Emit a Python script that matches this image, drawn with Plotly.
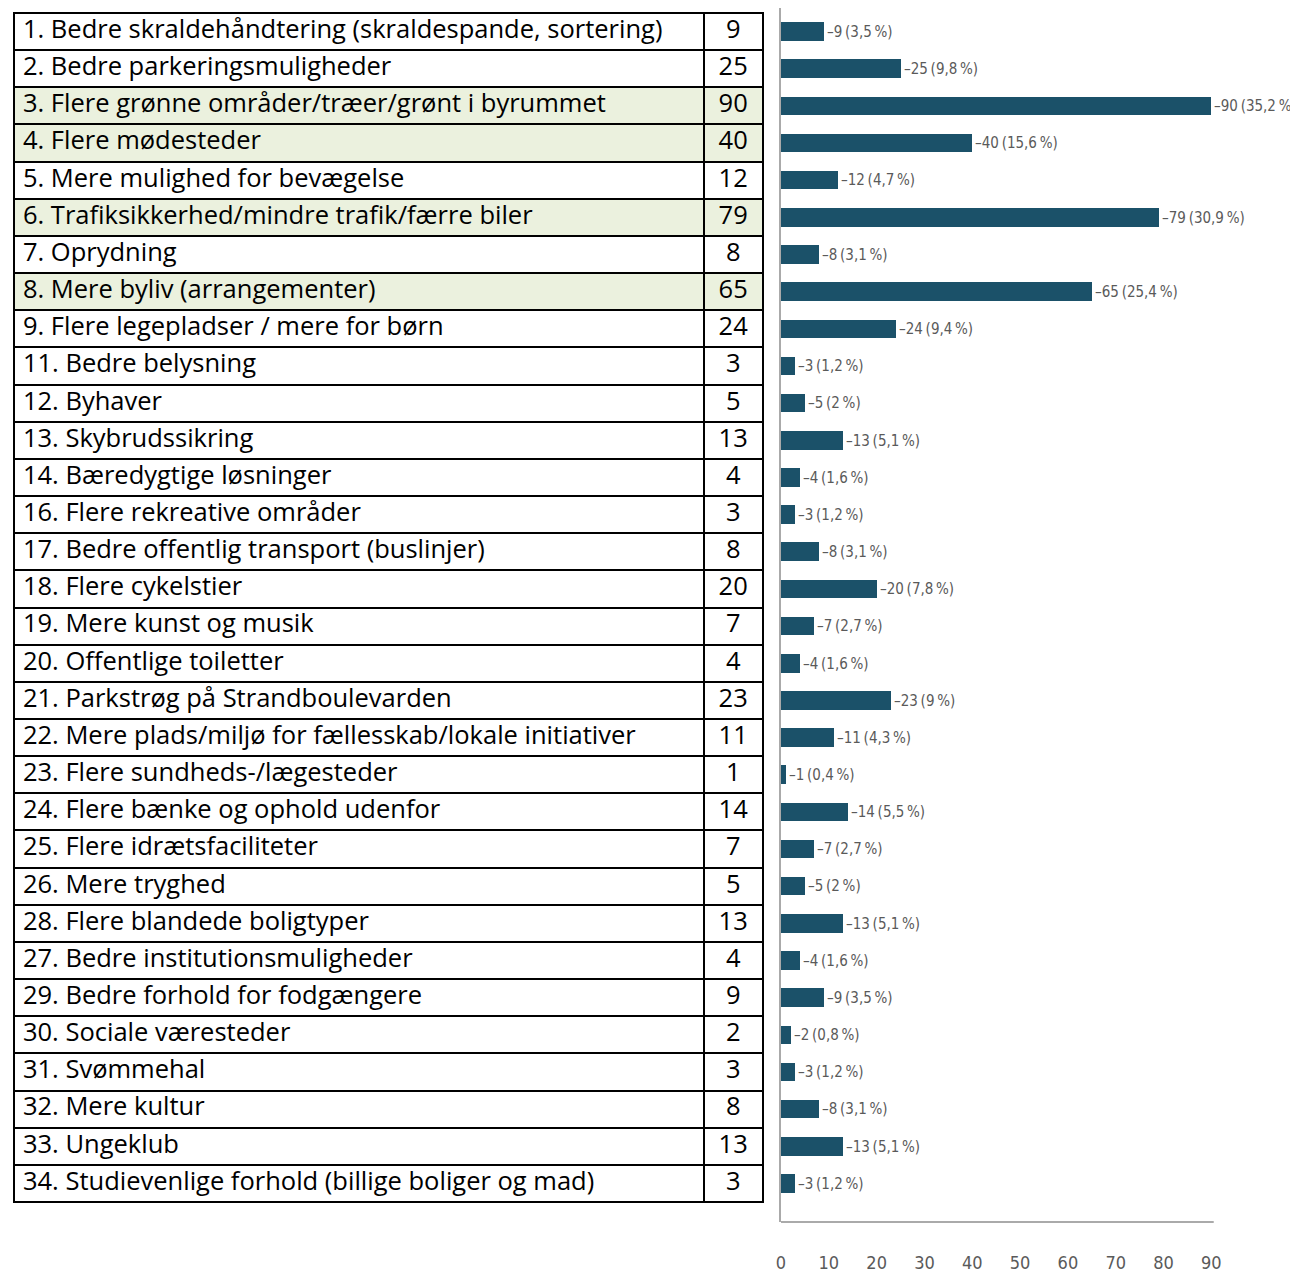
import plotly.graph_objects as go

labels = [
    "1. Bedre skraldehåndtering (skraldespande, sortering)",
    "2. Bedre parkeringsmuligheder",
    "3. Flere grønne områder/træer/grønt i byrummet",
    "4. Flere mødesteder",
    "5. Mere mulighed for bevægelse",
    "6. Trafiksikkerhed/mindre trafik/færre biler",
    "7. Oprydning",
    "8. Mere byliv (arrangementer)",
    "9. Flere legepladser / mere for børn",
    "11. Bedre belysning",
    "12. Byhaver",
    "13. Skybrudssikring",
    "14. Bæredygtige løsninger",
    "16. Flere rekreative områder",
    "17. Bedre offentlig transport (buslinjer)",
    "18. Flere cykelstier",
    "19. Mere kunst og musik",
    "20. Offentlige toiletter",
    "21. Parkstrøg på Strandboulevarden",
    "22. Mere plads/miljø for fællesskab/lokale initiativer",
    "23. Flere sundheds-/lægesteder",
    "24. Flere bænke og ophold udenfor",
    "25. Flere idrætsfaciliteter",
    "26. Mere tryghed",
    "28. Flere blandede boligtyper",
    "27. Bedre institutionsmuligheder",
    "29. Bedre forhold for fodgængere",
    "30. Sociale væresteder",
    "31. Svømmehal",
    "32. Mere kultur",
    "33. Ungeklub",
    "34. Studievenlige forhold (billige boliger og mad)",
]
values = [9, 25, 90, 40, 12, 79, 8, 65, 24, 3, 5, 13, 4, 3, 8, 20, 7, 4, 23, 11,
          1, 14, 7, 5, 13, 4, 9, 2, 3, 8, 13, 3]
percents = [3.5, 9.8, 35.2, 15.6, 4.7, 30.9, 3.1, 25.4, 9.4, 1.2, 2, 5.1, 1.6, 1.2,
            3.1, 7.8, 2.7, 1.6, 9, 4.3, 0.4, 5.5, 2.7, 2, 5.1, 1.6, 3.5, 0.8, 1.2,
            3.1, 5.1, 1.2]
highlighted = [3, 4, 6, 8]
x_ticks = [0, 10, 20, 30, 40, 50, 60, 70, 80, 90]

# page has an 8px body margin; work in reference-pixel units, figure is offset by 8
OFF = 8
PAGE_W, PAGE_H = 1298, 1273
FW, FH = PAGE_W - OFF, PAGE_H - OFF
n = len(labels)
rows = list(range(n))


def fmt_pct(p):
    return ("%g" % p).replace(".", ",")


def row_num(lbl):
    return int(lbl.split(".")[0])


THIN = "\u2009"
fills = ["#ebf1de" if row_num(l) in highlighted else "white" for l in labels]
bar_text = ["\u2013%d%s(%s%s%%)" % (v, THIN, fmt_pct(p), THIN)
            for v, p in zip(values, percents)]

TABLE_FONT = "Open Sans, Noto Sans, sans-serif"
NARROW_FONT = "DejaVu Sans Condensed, Liberation Sans, sans-serif"

# reference-pixel layout
table_left, col_split, table_right = 9, 702, 761
table_top, table_bottom = 13, 1202
plot_left = 779
px_per_unit = 4.8
bottom_px = 1222
row_h = (table_bottom - table_top) / n

fig = go.Figure()

fig.add_trace(go.Bar(
    y=rows, x=[col_split - table_left] * n, base=table_left, orientation="h", width=1,
    marker=dict(color=fills, line=dict(color="black", width=2)),
    xaxis="x2", yaxis="y", hoverinfo="skip", showlegend=False,
))
fig.add_trace(go.Bar(
    y=rows, x=[table_right - col_split] * n, base=col_split, orientation="h", width=1,
    marker=dict(color=fills, line=dict(color="black", width=2)),
    xaxis="x2", yaxis="y", hoverinfo="skip", showlegend=False,
))
fig.add_trace(go.Scatter(
    y=rows, x=[18] * n, mode="text", text=labels, textposition="middle right",
    textfont=dict(family=TABLE_FONT, size=25.5, color="black"),
    xaxis="x2", yaxis="y", hoverinfo="skip", showlegend=False,
))
fig.add_trace(go.Scatter(
    y=rows, x=[731] * n, mode="text",
    text=[str(v) for v in values], textposition="middle center",
    textfont=dict(family=TABLE_FONT, size=25.5, color="black"),
    xaxis="x2", yaxis="y", hoverinfo="skip", showlegend=False,
))

fig.add_trace(go.Bar(
    y=rows, x=values, orientation="h", width=0.5,
    marker=dict(color="#1b5169", line=dict(width=0)),
    text=bar_text, textposition="outside", constraintext="none", cliponaxis=False,
    textfont=dict(family=NARROW_FONT, size=15, color="#5a5a5a"),
    xaxis="x", yaxis="y", showlegend=False,
))

y_top = (OFF - table_top) / row_h - 0.5
y_bot = (bottom_px - table_top) / row_h - 0.5

fig.add_shape(type="line", xref="x", yref="y domain", x0=0, x1=90.5, y0=0, y1=0,
              line=dict(color="#aaaaaa", width=2))

fig.update_layout(
    width=FW, height=FH,
    margin=dict(l=0, r=0, t=0, b=0),
    paper_bgcolor="white", plot_bgcolor="white",
    barmode="overlay",
    bargap=0,
    xaxis=dict(
        domain=[(plot_left - OFF) / FW, 1], range=[0, (PAGE_W - plot_left) / px_per_unit],
        tickvals=x_ticks, ticks="outside", ticklen=24, tickcolor="rgba(0,0,0,0)",
        showgrid=False, zeroline=False, showline=False,
        tickfont=dict(family=NARROW_FONT, size=18, color="#5a5a5a"),
        anchor="y",
    ),
    xaxis2=dict(
        domain=[0, (plot_left - OFF) / FW], range=[OFF, plot_left], visible=False, anchor="y",
    ),
    yaxis=dict(
        domain=[(PAGE_H - bottom_px) / FH, 1], range=[y_bot, y_top],
        showticklabels=False, showgrid=False, zeroline=False,
        showline=True, linecolor="#aaaaaa", linewidth=2, anchor="x",
        ticks="",
    ),
)

fig.write_html("out.html")
